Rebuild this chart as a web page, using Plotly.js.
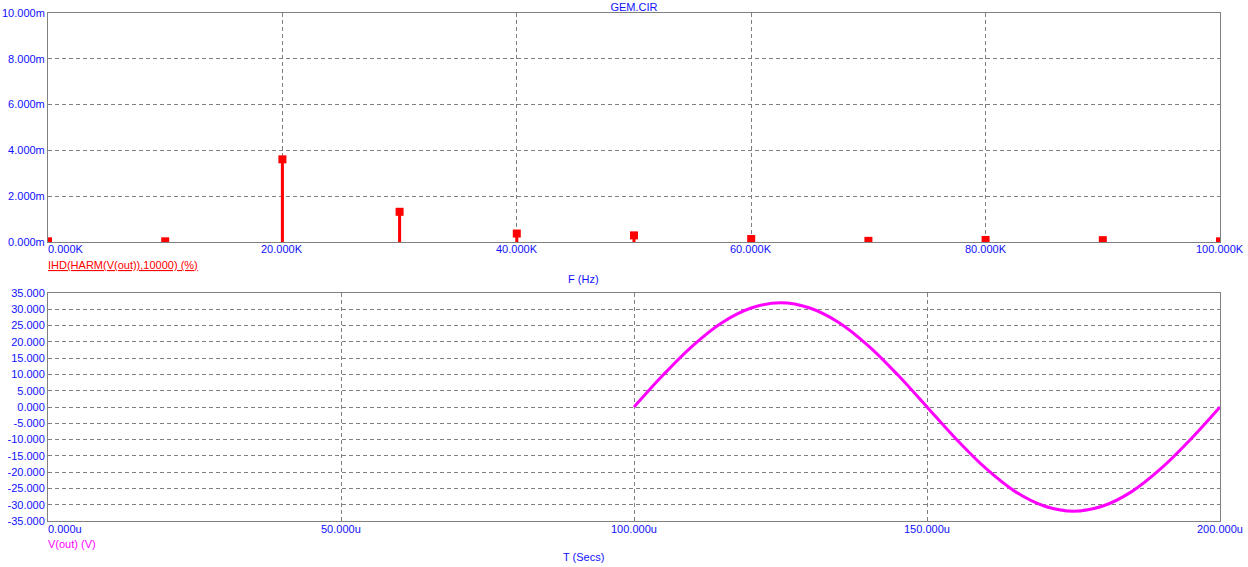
<!DOCTYPE html>
<html>
<head>
<meta charset="utf-8">
<script src="https://cdn.plot.ly/plotly-3.0.1.min.js"></script>
<style>html,body{margin:0;padding:0;background:#fff;}#chart{width:1248px;height:567px;}</style>
</head>
<body>
<div id="chart"></div>
<script>
// ---- Data: harmonic distortion (top) ----
const harmFreqHz = [0, 10000, 20000, 30000, 40000, 50000, 60000, 70000, 80000, 90000, 100000];
const harmIHD_m = [0.03, 0.03, 3.61, 1.32, 0.37, 0.29, 0.13, 0.05, 0.09, 0.08, 0.03];

const topXTickVals = [0, 20000, 40000, 60000, 80000, 100000];
const topXTickText = ["0.000K", "20.000K", "40.000K", "60.000K", "80.000K", "100.000K"];
const topYTickVals = [0, 2, 4, 6, 8, 10];
const topYTickText = ["0.000m", "2.000m", "4.000m", "6.000m", "8.000m", "10.000m"];

// ---- Data: V(out) transient (bottom) ----
const timeUs = [100, 105, 110, 115, 120, 125, 130, 135, 140, 145, 150, 155, 160, 165, 170, 175, 180, 185, 190, 195, 200];
const vOut = [0, 9.9, 18.8, 25.9, 30.4, 32.0, 30.4, 25.9, 18.8, 9.9, 0, -9.9, -18.8, -25.9, -30.4, -32.0, -30.4, -25.9, -18.8, -9.9, 0];

const botXTickVals = [0, 50, 100, 150, 200];
const botXTickText = ["0.000u", "50.000u", "100.000u", "150.000u", "200.000u"];
const botYTickVals = [-35, -30, -25, -20, -15, -10, -5, 0, 5, 10, 15, 20, 25, 30, 35];
const botYTickText = ["-35.000", "-30.000", "-25.000", "-20.000", "-15.000", "-10.000", "-5.000", "0.000",
                      "5.000", "10.000", "15.000", "20.000", "25.000", "30.000", "35.000"];

const chartTitle = "GEM.CIR";
const topLegend = "IHD(HARM(V(out)),10000) (%)";
const topXTitle = "F (Hz)";
const botLegend = "V(out) (V)";
const botXTitle = "T (Secs)";

// ---- Styling ----
const FONT = "Liberation Sans, Arial, sans-serif";
const BLUE = "#1010ff";
const GRID = "#808080";
const FS = 11;

const traces = [
  {
    type: "bar", x: harmFreqHz, y: harmIHD_m, width: 260,
    marker: {color: "#ff0000", line: {width: 0}},
    xaxis: "x", yaxis: "y", hoverinfo: "skip"
  },
  {
    type: "scatter", mode: "markers", x: harmFreqHz, y: harmIHD_m,
    marker: {symbol: "square", size: 8, color: "#ff0000", line: {width: 0}},
    cliponaxis: true, xaxis: "x", yaxis: "y", hoverinfo: "skip"
  },
  {
    type: "scatter", mode: "lines", x: timeUs, y: vOut,
    line: {color: "#ff00ff", width: 3, shape: "spline", smoothing: 1.0},
    xaxis: "x2", yaxis: "y2", hoverinfo: "skip"
  }
];

const axisCommon = {
  showline: true, mirror: true, linecolor: GRID, linewidth: 1,
  showgrid: true, gridcolor: GRID, gridwidth: 1, griddash: "4px,3px",
  zeroline: false, ticks: "", fixedrange: true
};

const annotations = [];
// top x tick labels
topXTickVals.forEach((v, i) => {
  annotations.push({
    xref: "x", yref: "paper", x: v, y: 0.5354, yanchor: "middle",
    xanchor: i === 0 ? "left" : "center", xshift: i === 0 ? -2 : 0,
    text: topXTickText[i], showarrow: false,
    font: {family: FONT, size: FS, color: BLUE}
  });
});
// bottom x tick labels
botXTickVals.forEach((v, i) => {
  annotations.push({
    xref: "x2", yref: "paper", x: v, y: -0.0157, yanchor: "middle",
    xanchor: i === 0 ? "left" : "center", xshift: i === 0 ? -2 : 0,
    text: botXTickText[i], showarrow: false,
    font: {family: FONT, size: FS, color: BLUE}
  });
});
annotations.push(
  {xref: "paper", yref: "paper", x: 0, y: 0.5039, xanchor: "left", yanchor: "middle", xshift: -2,
   text: topLegend, showarrow: false,
   font: {family: FONT, size: FS, color: "#ff0000", lineposition: "under"}},
  {xref: "paper", yref: "paper", x: 0.4565, y: 0.4764, xanchor: "center", yanchor: "middle",
   text: topXTitle, showarrow: false, font: {family: FONT, size: FS, color: BLUE}},
  {xref: "paper", yref: "paper", x: 0, y: -0.0453, xanchor: "left", yanchor: "middle", xshift: -2,
   text: botLegend, showarrow: false, font: {family: FONT, size: FS, color: "#ff00ff"}},
  {xref: "paper", yref: "paper", x: 0.4565, y: -0.0709, xanchor: "center", yanchor: "middle",
   text: botXTitle, showarrow: false, font: {family: FONT, size: FS, color: BLUE}}
);

const layout = {
  width: 1248, height: 567,
  margin: {l: 48, r: 28, t: 13, b: 46, pad: 0},
  paper_bgcolor: "#ffffff", plot_bgcolor: "#ffffff",
  showlegend: false, hovermode: false,
  font: {family: FONT, size: FS, color: BLUE},
  title: {text: chartTitle, font: {family: FONT, size: FS, color: BLUE},
          x: 0.5, xref: "paper", y: 1 - 7/567, yref: "container", yanchor: "middle", xanchor: "center"},
  xaxis: Object.assign({}, axisCommon, {
    domain: [0, 1], anchor: "y", range: [0, 100000],
    tickvals: topXTickVals, showticklabels: false
  }),
  yaxis: Object.assign({}, axisCommon, {
    domain: [0.5492, 1], anchor: "x", range: [0, 10],
    tickvals: topYTickVals, ticktext: topYTickText,
    tickfont: {family: FONT, size: FS, color: BLUE}
  }),
  xaxis2: Object.assign({}, axisCommon, {
    domain: [0, 1], anchor: "y2", range: [0, 200],
    tickvals: botXTickVals, showticklabels: false
  }),
  yaxis2: Object.assign({}, axisCommon, {
    domain: [0, 0.4488], anchor: "x2", range: [-35, 35],
    tickvals: botYTickVals, ticktext: botYTickText,
    tickfont: {family: FONT, size: FS, color: BLUE}
  }),
  annotations: annotations
};

Plotly.newPlot("chart", traces, layout, {staticPlot: true, displayModeBar: false});
</script>
</body>
</html>
